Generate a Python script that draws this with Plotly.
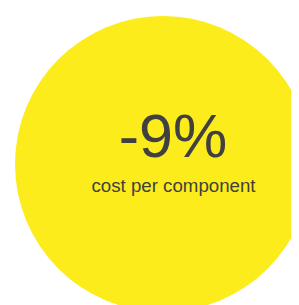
import plotly.graph_objects as go

value_text = ["-9%"]
label_text = ["cost per component"]
circle_center = [163]
circle_radius = [148]

OFF = 8  # page body margin

fig = go.Figure()

cx = circle_center[0]
r = circle_radius[0]
fig.add_shape(type="circle", xref="x", yref="y",
              x0=cx - r, x1=cx + r, y0=cx - r + 1, y1=cx + r + 1,
              fillcolor="#FCEC1C", line=dict(width=0), layer="below")

fig.add_trace(go.Scatter(
    x=[173], y=[141.5], mode="text", text=value_text,
    textfont=dict(family="Liberation Sans, Arial", size=61, color="#404040"),
    textposition="middle center", hoverinfo="skip", showlegend=False))
fig.add_trace(go.Scatter(
    x=[173.5], y=[187], mode="text", text=label_text,
    textfont=dict(family="Liberation Sans, Arial", size=18.7, color="#404040"),
    textposition="middle center", hoverinfo="skip", showlegend=False))

fig.update_layout(
    width=299, height=305, margin=dict(l=0, r=0, t=0, b=0),
    paper_bgcolor="white", plot_bgcolor="white",
    xaxis=dict(range=[OFF, 299 + OFF], visible=False, fixedrange=True),
    yaxis=dict(range=[305 + OFF, OFF], visible=False, fixedrange=True),
)
fig.write_html("out.html")
